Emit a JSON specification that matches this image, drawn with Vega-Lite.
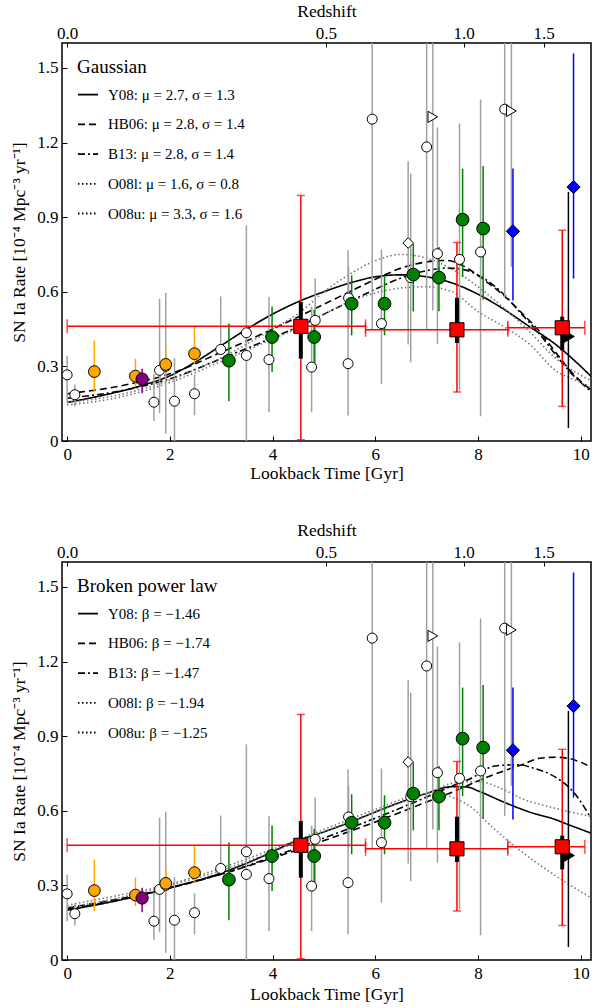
{
"$schema": "https://vega.github.io/schema/vega-lite/v6.json",
"background": "white",
"padding": {"left": 10, "top": 1, "right": 0, "bottom": 0},
"spacing": 37,
"config": {
  "font": "Liberation Serif",
  "view": {"stroke": "black", "strokeWidth": 1.5},
  "axis": {"grid": false, "domain": false, "tickColor": "black", "tickSize": -5, "tickWidth": 1, "labelPadding": 9, "labelFontSize": 17, "labelColor": "black", "titleFontSize": 17.5, "titleFontWeight": "normal", "titleColor": "black", "labelFont": "Liberation Serif", "titleFont": "Liberation Serif"},
  "legend": {"orient": "top-left", "offset": 15, "padding": 0, "titleFont": "Liberation Serif", "titleFontSize": 19, "titleFontWeight": "normal", "titleColor": "black", "titlePadding": 6.7, "labelFont": "Liberation Serif", "labelFontSize": 15, "labelColor": "black", "labelLimit": 400, "labelOffset": 9, "symbolType": "stroke", "symbolSize": 400, "symbolStrokeWidth": 1.8, "symbolStrokeColor": "black", "rowPadding": 10.7}
},
"datasets": {
  "obs": [
    {"kind":"open","t":0.0,"r":0.266,"lo":0.156,"hi":0.343},
    {"kind":"open","t":0.15,"r":0.186,"lo":0.139,"hi":0.227},
    {"kind":"open","t":1.69,"r":0.156,"lo":0.08,"hi":0.27},
    {"kind":"open","t":1.80,"r":0.284,"lo":0.112,"hi":0.572},
    {"kind":"open","t":1.92,"r":0.30,"lo":0.029,"hi":0.596},
    {"kind":"open","t":2.09,"r":0.160,"lo":0.0,"hi":0.333},
    {"kind":"open","t":2.48,"r":0.19,"lo":0.103,"hi":0.268},
    {"kind":"open","t":2.99,"r":0.368,"lo":0.351,"hi":0.581},
    {"kind":"open","t":3.49,"r":0.435,"lo":0.435,"hi":0.435},
    {"kind":"open","t":3.49,"r":0.344,"lo":0.0,"hi":0.867},
    {"kind":"open","t":3.93,"r":0.327,"lo":0.116,"hi":0.579},
    {"kind":"open","t":4.83,"r":0.485,"lo":0.30,"hi":0.653},
    {"kind":"open","t":4.76,"r":0.297,"lo":0.116,"hi":0.54},
    {"kind":"open","t":5.47,"r":0.311,"lo":0.103,"hi":0.767},
    {"kind":"open","t":5.48,"r":0.575,"lo":0.45,"hi":0.70},
    {"kind":"open","t":5.94,"r":1.294,"lo":0.445,"hi":1.7},
    {"kind":"open","t":6.12,"r":0.472,"lo":0.23,"hi":0.77},
    {"kind":"open","t":6.69,"r":0.657,"lo":0.317,"hi":1.075},
    {"kind":"open","t":7.00,"r":1.182,"lo":0.45,"hi":1.7},
    {"kind":"open","t":7.21,"r":0.753,"lo":0.391,"hi":1.26},
    {"kind":"open","t":7.64,"r":0.730,"lo":0.203,"hi":1.276},
    {"kind":"open","t":8.05,"r":0.760,"lo":0.099,"hi":1.373},
    {"kind":"open","t":8.52,"r":1.334,"lo":0.579,"hi":1.7},
    {"kind":"opendiamond","t":6.64,"r":0.796,"lo":0.388,"hi":1.125},
    {"kind":"opentri","t":7.12,"r":1.303,"lo":0.525,"hi":1.7},
    {"kind":"opentri","t":8.65,"r":1.327,"lo":0.70,"hi":1.7},
    {"kind":"orange","t":0.53,"r":0.279,"lo":0.196,"hi":0.404},
    {"kind":"orange","t":1.33,"r":0.261,"lo":0.217,"hi":0.331},
    {"kind":"orange","t":1.92,"r":0.308,"lo":0.273,"hi":0.38},
    {"kind":"orange","t":2.48,"r":0.351,"lo":0.313,"hi":0.458},
    {"kind":"purple","t":1.46,"r":0.249,"lo":0.192,"hi":0.29},
    {"kind":"green","t":3.15,"r":0.323,"lo":0.160,"hi":0.472},
    {"kind":"green","t":3.99,"r":0.418,"lo":0.277,"hi":0.541},
    {"kind":"green","t":4.81,"r":0.418,"lo":0.29,"hi":0.528},
    {"kind":"green","t":5.54,"r":0.552,"lo":0.425,"hi":0.666},
    {"kind":"green","t":6.18,"r":0.552,"lo":0.425,"hi":0.662},
    {"kind":"green","t":6.74,"r":0.669,"lo":0.521,"hi":0.793},
    {"kind":"green","t":7.24,"r":0.657,"lo":0.522,"hi":0.78},
    {"kind":"green","t":7.70,"r":0.890,"lo":0.659,"hi":1.095},
    {"kind":"green","t":8.10,"r":0.854,"lo":0.568,"hi":1.106},
    {"kind":"blue","t":8.68,"r":0.843,"lo":0.565,"hi":1.095},
    {"kind":"blue","t":9.86,"r":1.021,"lo":0.653,"hi":1.558},
    {"kind":"blacktri","t":9.76,"r":0.42,"lo":0.052,"hi":1.001},
    {"kind":"red","t":4.55,"r":0.461,"lo":0.005,"hi":0.987,"xlo":0.0,"xhi":5.81,"slo":0.331,"shi":0.559},
    {"kind":"red","t":7.59,"r":0.447,"lo":0.197,"hi":0.798,"xlo":5.81,"xhi":8.58,"slo":0.394,"shi":0.576},
    {"kind":"red","t":9.64,"r":0.455,"lo":0.139,"hi":0.847,"xlo":8.58,"xhi":10.08,"slo":0.364,"shi":0.50}
  ],
  "gauss": [
    {"m":"Y08","t":0,"r":0.155},{"m":"Y08","t":0.5,"r":0.175},{"m":"Y08","t":1,"r":0.198},{"m":"Y08","t":1.5,"r":0.226},{"m":"Y08","t":2,"r":0.262},{"m":"Y08","t":2.5,"r":0.318},{"m":"Y08","t":3,"r":0.384},{"m":"Y08","t":3.5,"r":0.45},{"m":"Y08","t":4,"r":0.51},{"m":"Y08","t":4.5,"r":0.56},{"m":"Y08","t":5,"r":0.60},{"m":"Y08","t":5.5,"r":0.635},{"m":"Y08","t":6,"r":0.66},{"m":"Y08","t":6.5,"r":0.668},{"m":"Y08","t":7,"r":0.66},{"m":"Y08","t":7.5,"r":0.635},{"m":"Y08","t":8,"r":0.59},{"m":"Y08","t":8.5,"r":0.53},{"m":"Y08","t":9,"r":0.46},{"m":"Y08","t":9.5,"r":0.39},{"m":"Y08","t":10,"r":0.30},{"m":"Y08","t":10.2,"r":0.26},
    {"m":"HB06","t":0,"r":0.19},{"m":"HB06","t":1,"r":0.22},{"m":"HB06","t":2,"r":0.27},{"m":"HB06","t":3,"r":0.357},{"m":"HB06","t":4,"r":0.45},{"m":"HB06","t":4.55,"r":0.504},{"m":"HB06","t":5,"r":0.55},{"m":"HB06","t":5.5,"r":0.60},{"m":"HB06","t":6,"r":0.65},{"m":"HB06","t":6.5,"r":0.695},{"m":"HB06","t":7,"r":0.72},{"m":"HB06","t":7.4,"r":0.726},{"m":"HB06","t":7.7,"r":0.705},{"m":"HB06","t":8.1,"r":0.65},{"m":"HB06","t":8.5,"r":0.585},{"m":"HB06","t":8.85,"r":0.515},{"m":"HB06","t":9.2,"r":0.44},{"m":"HB06","t":9.5,"r":0.36},{"m":"HB06","t":9.85,"r":0.27},{"m":"HB06","t":10.2,"r":0.205},
    {"m":"B13","t":0,"r":0.172},{"m":"B13","t":1,"r":0.20},{"m":"B13","t":2,"r":0.25},{"m":"B13","t":3,"r":0.331},{"m":"B13","t":4,"r":0.415},{"m":"B13","t":4.55,"r":0.464},{"m":"B13","t":5,"r":0.51},{"m":"B13","t":5.5,"r":0.56},{"m":"B13","t":6,"r":0.61},{"m":"B13","t":6.5,"r":0.655},{"m":"B13","t":7,"r":0.685},{"m":"B13","t":7.4,"r":0.695},{"m":"B13","t":7.7,"r":0.69},{"m":"B13","t":8.1,"r":0.655},{"m":"B13","t":8.5,"r":0.59},{"m":"B13","t":8.85,"r":0.51},{"m":"B13","t":9.2,"r":0.43},{"m":"B13","t":9.5,"r":0.35},{"m":"B13","t":9.85,"r":0.265},{"m":"B13","t":10.2,"r":0.20},
    {"m":"O08l","t":0,"r":0.145},{"m":"O08l","t":1,"r":0.175},{"m":"O08l","t":2,"r":0.235},{"m":"O08l","t":3,"r":0.32},{"m":"O08l","t":4,"r":0.41},{"m":"O08l","t":4.55,"r":0.46},{"m":"O08l","t":5,"r":0.51},{"m":"O08l","t":5.5,"r":0.56},{"m":"O08l","t":6,"r":0.595},{"m":"O08l","t":6.5,"r":0.615},{"m":"O08l","t":7,"r":0.62},{"m":"O08l","t":7.5,"r":0.60},{"m":"O08l","t":8,"r":0.52},{"m":"O08l","t":8.5,"r":0.46},{"m":"O08l","t":9,"r":0.39},{"m":"O08l","t":9.5,"r":0.285},{"m":"O08l","t":10,"r":0.235},{"m":"O08l","t":10.2,"r":0.217},
    {"m":"O08u","t":0,"r":0.155},{"m":"O08u","t":1,"r":0.185},{"m":"O08u","t":2,"r":0.245},{"m":"O08u","t":3,"r":0.335},{"m":"O08u","t":4,"r":0.45},{"m":"O08u","t":4.55,"r":0.52},{"m":"O08u","t":5,"r":0.60},{"m":"O08u","t":5.5,"r":0.67},{"m":"O08u","t":6,"r":0.725},{"m":"O08u","t":6.5,"r":0.75},{"m":"O08u","t":7,"r":0.735},{"m":"O08u","t":7.5,"r":0.69},{"m":"O08u","t":8,"r":0.62},{"m":"O08u","t":8.5,"r":0.535},{"m":"O08u","t":9,"r":0.44},{"m":"O08u","t":9.5,"r":0.335},{"m":"O08u","t":10,"r":0.265},{"m":"O08u","t":10.2,"r":0.243}
  ],
  "bpl": [
    {"m":"Y08","t":0,"r":0.20},{"m":"Y08","t":1,"r":0.24},{"m":"Y08","t":2,"r":0.29},{"m":"Y08","t":3,"r":0.35},{"m":"Y08","t":4,"r":0.435},{"m":"Y08","t":4.3,"r":0.465},{"m":"Y08","t":5,"r":0.515},{"m":"Y08","t":5.5,"r":0.553},{"m":"Y08","t":6,"r":0.595},{"m":"Y08","t":6.5,"r":0.635},{"m":"Y08","t":7,"r":0.67},{"m":"Y08","t":7.5,"r":0.697},{"m":"Y08","t":7.8,"r":0.695},{"m":"Y08","t":8,"r":0.68},{"m":"Y08","t":8.5,"r":0.635},{"m":"Y08","t":9,"r":0.595},{"m":"Y08","t":9.5,"r":0.565},{"m":"Y08","t":9.75,"r":0.545},{"m":"Y08","t":10.2,"r":0.51},
    {"m":"HB06","t":0,"r":0.21},{"m":"HB06","t":1,"r":0.245},{"m":"HB06","t":2,"r":0.29},{"m":"HB06","t":3,"r":0.345},{"m":"HB06","t":4,"r":0.41},{"m":"HB06","t":5,"r":0.48},{"m":"HB06","t":6,"r":0.555},{"m":"HB06","t":7,"r":0.635},{"m":"HB06","t":7.5,"r":0.675},{"m":"HB06","t":8,"r":0.72},{"m":"HB06","t":8.5,"r":0.76},{"m":"HB06","t":8.84,"r":0.784},{"m":"HB06","t":9.23,"r":0.812},{"m":"HB06","t":9.5,"r":0.815},{"m":"HB06","t":9.75,"r":0.811},{"m":"HB06","t":10,"r":0.795},{"m":"HB06","t":10.2,"r":0.775},
    {"m":"B13","t":0,"r":0.205},{"m":"B13","t":1,"r":0.24},{"m":"B13","t":2,"r":0.29},{"m":"B13","t":3,"r":0.345},{"m":"B13","t":4,"r":0.415},{"m":"B13","t":5,"r":0.49},{"m":"B13","t":6,"r":0.57},{"m":"B13","t":7,"r":0.655},{"m":"B13","t":7.5,"r":0.70},{"m":"B13","t":7.87,"r":0.731},{"m":"B13","t":8.33,"r":0.78},{"m":"B13","t":8.78,"r":0.785},{"m":"B13","t":9.1,"r":0.77},{"m":"B13","t":9.49,"r":0.737},{"m":"B13","t":9.88,"r":0.67},{"m":"B13","t":10.2,"r":0.57},
    {"m":"O08l","t":0,"r":0.22},{"m":"O08l","t":1,"r":0.26},{"m":"O08l","t":2,"r":0.305},{"m":"O08l","t":3,"r":0.37},{"m":"O08l","t":4,"r":0.445},{"m":"O08l","t":5,"r":0.525},{"m":"O08l","t":6,"r":0.605},{"m":"O08l","t":6.8,"r":0.66},{"m":"O08l","t":7.3,"r":0.665},{"m":"O08l","t":7.6,"r":0.645},{"m":"O08l","t":7.8,"r":0.624},{"m":"O08l","t":8.3,"r":0.53},{"m":"O08l","t":8.84,"r":0.437},{"m":"O08l","t":9.5,"r":0.34},{"m":"O08l","t":10.2,"r":0.25},
    {"m":"O08u","t":0,"r":0.21},{"m":"O08u","t":1,"r":0.25},{"m":"O08u","t":2,"r":0.30},{"m":"O08u","t":3,"r":0.36},{"m":"O08u","t":4,"r":0.435},{"m":"O08u","t":5,"r":0.515},{"m":"O08u","t":6,"r":0.595},{"m":"O08u","t":7,"r":0.67},{"m":"O08u","t":7.68,"r":0.717},{"m":"O08u","t":8,"r":0.717},{"m":"O08u","t":8.5,"r":0.685},{"m":"O08u","t":8.84,"r":0.65},{"m":"O08u","t":9.5,"r":0.61},{"m":"O08u","t":10.2,"r":0.577}
  ]
},
"resolve": {"scale": {"x": "independent", "y": "independent", "strokeDash": "independent", "color": "independent", "shape": "independent", "fill": "independent", "size": "independent"}, "legend": {"strokeDash": "independent"}},
"vconcat": [
{
  "width": 529, "height": 398,
  "resolve": {"axis": {"x": "independent", "y": "independent"}, "scale": {"color": "independent"}},
  "layer": [
    {"data": {"name": "gauss"}, "mark": {"type": "line", "interpolate": "monotone", "clip": true, "strokeWidth": 1.6},
     "encoding": {
       "x": {"field": "t", "type": "quantitative", "scale": {"domain": [-0.1, 10.2], "nice": false, "zero": false}, "axis": {"orient": "bottom", "values": [0,2,4,6,8,10], "format": "d", "labelPadding": 10, "title": "Lookback Time [Gyr]", "titlePadding": 2}},
       "y": {"field": "r", "type": "quantitative", "scale": {"domain": [0, 1.6], "nice": false, "zero": false}, "axis": {"orient": "left", "values": [0,0.3,0.6,0.9,1.2,1.5], "labelExpr": "datum.value == 0 ? '0' : format(datum.value, '.1f')", "title": "SN Ia Rate [10⁻⁴ Mpc⁻³ yr⁻¹]", "titlePadding": 8}},
       "strokeDash": {"field": "m", "type": "nominal", "scale": {"domain": ["Y08","HB06","B13","O08l","O08u"], "range": [[1,0],[7,4],[7,3,2,3],[1.5,2.5],[1.5,2.5]]}, "legend": {"title": "Gaussian", "labelExpr": "datum.label == 'Y08' ? 'Y08:  μ = 2.7, σ = 1.3' : datum.label == 'HB06' ? 'HB06:  μ = 2.8, σ = 1.4' : datum.label == 'B13' ? 'B13:  μ = 2.8, σ = 1.4' : datum.label == 'O08l' ? 'O08l:  μ = 1.6, σ = 0.8' : 'O08u:  μ = 3.3, σ = 1.6'"}},
       "color": {"field": "m", "type": "nominal", "scale": {"domain": ["Y08","HB06","B13","O08l","O08u"], "range": ["black","black","black","#777777","#777777"]}, "legend": null}
     }},
    {"data": {"name": "obs"}, "mark": {"type": "rule", "clip": true, "strokeWidth": 1.5},
     "encoding": {
       "x": {"field": "t", "type": "quantitative", "scale": {"domain": [-0.1, 10.2], "nice": false, "zero": false}, "axis": {"orient": "top", "values": [0, 5.04, 7.72, 9.28], "labelExpr": "datum.value < 1 ? '0.0' : datum.value < 6 ? '0.5' : datum.value < 8.5 ? '1.0' : '1.5'", "tickSize": -4, "labelPadding": 5, "title": "Redshift", "titlePadding": 4}},
       "y": {"field": "lo", "type": "quantitative", "scale": {"domain": [0, 1.6], "nice": false, "zero": false}, "axis": null},
       "y2": {"field": "hi"},
       "color": {"field": "kind", "type": "nominal", "scale": {"domain": ["open","opendiamond","opentri","orange","purple","green","blue","blacktri","red"], "range": ["#a0a0a0","#a0a0a0","#a0a0a0","#FFA500","#800080","#008000","#0000FF","#000000","#FF0000"]}, "legend": null}
     }},
    {"data": {"name": "obs"}, "transform": [{"filter": "datum.kind == 'red'"}], "mark": {"type": "rule", "clip": true, "strokeWidth": 1.5, "color": "#FF0000"},
     "encoding": {
       "x": {"field": "xlo", "type": "quantitative", "scale": {"domain": [-0.1, 10.2], "nice": false, "zero": false}, "axis": null},
       "x2": {"field": "xhi"},
       "y": {"field": "r", "type": "quantitative", "scale": {"domain": [0, 1.6], "nice": false, "zero": false}, "axis": null}
     }},
    {"data": {"name": "obs"}, "transform": [{"filter": "datum.kind == 'red'"}], "mark": {"type": "tick", "orient": "vertical", "size": 14, "thickness": 1.5, "color": "#FF0000"},
     "encoding": {
       "x": {"field": "xlo", "type": "quantitative", "scale": {"domain": [-0.1, 10.2], "nice": false, "zero": false}, "axis": null},
       "y": {"field": "r", "type": "quantitative", "scale": {"domain": [0, 1.6], "nice": false, "zero": false}, "axis": null}
     }},
    {"data": {"name": "obs"}, "transform": [{"filter": "datum.kind == 'red'"}], "mark": {"type": "tick", "orient": "vertical", "size": 14, "thickness": 1.5, "color": "#FF0000"},
     "encoding": {
       "x": {"field": "xhi", "type": "quantitative", "scale": {"domain": [-0.1, 10.2], "nice": false, "zero": false}, "axis": null},
       "y": {"field": "r", "type": "quantitative", "scale": {"domain": [0, 1.6], "nice": false, "zero": false}, "axis": null}
     }},
    {"data": {"name": "obs"}, "transform": [{"filter": "datum.kind == 'red'"}], "mark": {"type": "tick", "orient": "horizontal", "size": 8, "thickness": 1.5, "color": "#FF0000"},
     "encoding": {
       "x": {"field": "t", "type": "quantitative", "scale": {"domain": [-0.1, 10.2], "nice": false, "zero": false}, "axis": null},
       "y": {"field": "lo", "type": "quantitative", "scale": {"domain": [0, 1.6], "nice": false, "zero": false}, "axis": null}
     }},
    {"data": {"name": "obs"}, "transform": [{"filter": "datum.kind == 'red'"}], "mark": {"type": "tick", "orient": "horizontal", "size": 8, "thickness": 1.5, "color": "#FF0000"},
     "encoding": {
       "x": {"field": "t", "type": "quantitative", "scale": {"domain": [-0.1, 10.2], "nice": false, "zero": false}, "axis": null},
       "y": {"field": "hi", "type": "quantitative", "scale": {"domain": [0, 1.6], "nice": false, "zero": false}, "axis": null}
     }},
    {"data": {"name": "obs"}, "transform": [{"filter": "datum.kind == 'red'"}], "mark": {"type": "rule", "strokeWidth": 4, "color": "#000000"},
     "encoding": {
       "x": {"field": "t", "type": "quantitative", "scale": {"domain": [-0.1, 10.2], "nice": false, "zero": false}, "axis": null},
       "y": {"field": "slo", "type": "quantitative", "scale": {"domain": [0, 1.6], "nice": false, "zero": false}, "axis": null},
       "y2": {"field": "shi"}
     }},
    {"data": {"name": "obs"}, "mark": {"type": "point", "filled": true, "stroke": "#000000", "strokeWidth": 1, "opacity": 1, "clip": true},
     "encoding": {
       "x": {"field": "t", "type": "quantitative", "scale": {"domain": [-0.1, 10.2], "nice": false, "zero": false}, "axis": null},
       "y": {"field": "r", "type": "quantitative", "scale": {"domain": [0, 1.6], "nice": false, "zero": false}, "axis": null},
       "shape": {"field": "kind", "type": "nominal", "scale": {"domain": ["open","opendiamond","opentri","orange","purple","green","blue","blacktri","red"], "range": ["circle","diamond","triangle-right","circle","circle","circle","diamond","triangle-right","square"]}, "legend": null},
       "fill": {"field": "kind", "type": "nominal", "scale": {"domain": ["open","opendiamond","opentri","orange","purple","green","blue","blacktri","red"], "range": ["#FFFFFF","#FFFFFF","#FFFFFF","#FFA500","#800080","#008000","#0000FF","#000000","#FF0000"]}, "legend": null},
       "size": {"field": "kind", "type": "nominal", "scale": {"domain": ["open","opendiamond","opentri","orange","purple","green","blue","blacktri","red"], "range": [100,200,150,100,100,100,200,150,110]}, "legend": null}
     }}
  ]
},
{
  "width": 529, "height": 398,
  "resolve": {"axis": {"x": "independent", "y": "independent"}, "scale": {"color": "independent"}},
  "layer": [
    {"data": {"name": "bpl"}, "mark": {"type": "line", "interpolate": "monotone", "clip": true, "strokeWidth": 1.6},
     "encoding": {
       "x": {"field": "t", "type": "quantitative", "scale": {"domain": [-0.1, 10.2], "nice": false, "zero": false}, "axis": {"orient": "bottom", "values": [0,2,4,6,8,10], "format": "d", "labelPadding": 10, "title": "Lookback Time [Gyr]", "titlePadding": 4}},
       "y": {"field": "r", "type": "quantitative", "scale": {"domain": [0, 1.6], "nice": false, "zero": false}, "axis": {"orient": "left", "values": [0,0.3,0.6,0.9,1.2,1.5], "labelExpr": "datum.value == 0 ? '0' : format(datum.value, '.1f')", "title": "SN Ia Rate [10⁻⁴ Mpc⁻³ yr⁻¹]", "titlePadding": 8}},
       "strokeDash": {"field": "m", "type": "nominal", "scale": {"domain": ["Y08","HB06","B13","O08l","O08u"], "range": [[1,0],[7,4],[7,3,2,3],[1.5,2.5],[1.5,2.5]]}, "legend": {"title": "Broken power law", "labelExpr": "datum.label == 'Y08' ? 'Y08:  β = −1.46' : datum.label == 'HB06' ? 'HB06:  β = −1.74' : datum.label == 'B13' ? 'B13:  β = −1.47' : datum.label == 'O08l' ? 'O08l:  β = −1.94' : 'O08u:  β = −1.25'"}},
       "color": {"field": "m", "type": "nominal", "scale": {"domain": ["Y08","HB06","B13","O08l","O08u"], "range": ["black","black","black","#777777","#777777"]}, "legend": null}
     }},
    {"data": {"name": "obs"}, "mark": {"type": "rule", "clip": true, "strokeWidth": 1.5},
     "encoding": {
       "x": {"field": "t", "type": "quantitative", "scale": {"domain": [-0.1, 10.2], "nice": false, "zero": false}, "axis": {"orient": "top", "values": [0, 5.04, 7.72, 9.28], "labelExpr": "datum.value < 1 ? '0.0' : datum.value < 6 ? '0.5' : datum.value < 8.5 ? '1.0' : '1.5'", "tickSize": -4, "labelPadding": 5, "title": "Redshift", "titlePadding": 4}},
       "y": {"field": "lo", "type": "quantitative", "scale": {"domain": [0, 1.6], "nice": false, "zero": false}, "axis": null},
       "y2": {"field": "hi"},
       "color": {"field": "kind", "type": "nominal", "scale": {"domain": ["open","opendiamond","opentri","orange","purple","green","blue","blacktri","red"], "range": ["#a0a0a0","#a0a0a0","#a0a0a0","#FFA500","#800080","#008000","#0000FF","#000000","#FF0000"]}, "legend": null}
     }},
    {"data": {"name": "obs"}, "transform": [{"filter": "datum.kind == 'red'"}], "mark": {"type": "rule", "clip": true, "strokeWidth": 1.5, "color": "#FF0000"},
     "encoding": {
       "x": {"field": "xlo", "type": "quantitative", "scale": {"domain": [-0.1, 10.2], "nice": false, "zero": false}, "axis": null},
       "x2": {"field": "xhi"},
       "y": {"field": "r", "type": "quantitative", "scale": {"domain": [0, 1.6], "nice": false, "zero": false}, "axis": null}
     }},
    {"data": {"name": "obs"}, "transform": [{"filter": "datum.kind == 'red'"}], "mark": {"type": "tick", "orient": "vertical", "size": 14, "thickness": 1.5, "color": "#FF0000"},
     "encoding": {
       "x": {"field": "xlo", "type": "quantitative", "scale": {"domain": [-0.1, 10.2], "nice": false, "zero": false}, "axis": null},
       "y": {"field": "r", "type": "quantitative", "scale": {"domain": [0, 1.6], "nice": false, "zero": false}, "axis": null}
     }},
    {"data": {"name": "obs"}, "transform": [{"filter": "datum.kind == 'red'"}], "mark": {"type": "tick", "orient": "vertical", "size": 14, "thickness": 1.5, "color": "#FF0000"},
     "encoding": {
       "x": {"field": "xhi", "type": "quantitative", "scale": {"domain": [-0.1, 10.2], "nice": false, "zero": false}, "axis": null},
       "y": {"field": "r", "type": "quantitative", "scale": {"domain": [0, 1.6], "nice": false, "zero": false}, "axis": null}
     }},
    {"data": {"name": "obs"}, "transform": [{"filter": "datum.kind == 'red'"}], "mark": {"type": "tick", "orient": "horizontal", "size": 8, "thickness": 1.5, "color": "#FF0000"},
     "encoding": {
       "x": {"field": "t", "type": "quantitative", "scale": {"domain": [-0.1, 10.2], "nice": false, "zero": false}, "axis": null},
       "y": {"field": "lo", "type": "quantitative", "scale": {"domain": [0, 1.6], "nice": false, "zero": false}, "axis": null}
     }},
    {"data": {"name": "obs"}, "transform": [{"filter": "datum.kind == 'red'"}], "mark": {"type": "tick", "orient": "horizontal", "size": 8, "thickness": 1.5, "color": "#FF0000"},
     "encoding": {
       "x": {"field": "t", "type": "quantitative", "scale": {"domain": [-0.1, 10.2], "nice": false, "zero": false}, "axis": null},
       "y": {"field": "hi", "type": "quantitative", "scale": {"domain": [0, 1.6], "nice": false, "zero": false}, "axis": null}
     }},
    {"data": {"name": "obs"}, "transform": [{"filter": "datum.kind == 'red'"}], "mark": {"type": "rule", "strokeWidth": 4, "color": "#000000"},
     "encoding": {
       "x": {"field": "t", "type": "quantitative", "scale": {"domain": [-0.1, 10.2], "nice": false, "zero": false}, "axis": null},
       "y": {"field": "slo", "type": "quantitative", "scale": {"domain": [0, 1.6], "nice": false, "zero": false}, "axis": null},
       "y2": {"field": "shi"}
     }},
    {"data": {"name": "obs"}, "mark": {"type": "point", "filled": true, "stroke": "#000000", "strokeWidth": 1, "opacity": 1, "clip": true},
     "encoding": {
       "x": {"field": "t", "type": "quantitative", "scale": {"domain": [-0.1, 10.2], "nice": false, "zero": false}, "axis": null},
       "y": {"field": "r", "type": "quantitative", "scale": {"domain": [0, 1.6], "nice": false, "zero": false}, "axis": null},
       "shape": {"field": "kind", "type": "nominal", "scale": {"domain": ["open","opendiamond","opentri","orange","purple","green","blue","blacktri","red"], "range": ["circle","diamond","triangle-right","circle","circle","circle","diamond","triangle-right","square"]}, "legend": null},
       "fill": {"field": "kind", "type": "nominal", "scale": {"domain": ["open","opendiamond","opentri","orange","purple","green","blue","blacktri","red"], "range": ["#FFFFFF","#FFFFFF","#FFFFFF","#FFA500","#800080","#008000","#0000FF","#000000","#FF0000"]}, "legend": null},
       "size": {"field": "kind", "type": "nominal", "scale": {"domain": ["open","opendiamond","opentri","orange","purple","green","blue","blacktri","red"], "range": [100,200,150,100,100,100,200,150,110]}, "legend": null}
     }}
  ]
}
]
}
